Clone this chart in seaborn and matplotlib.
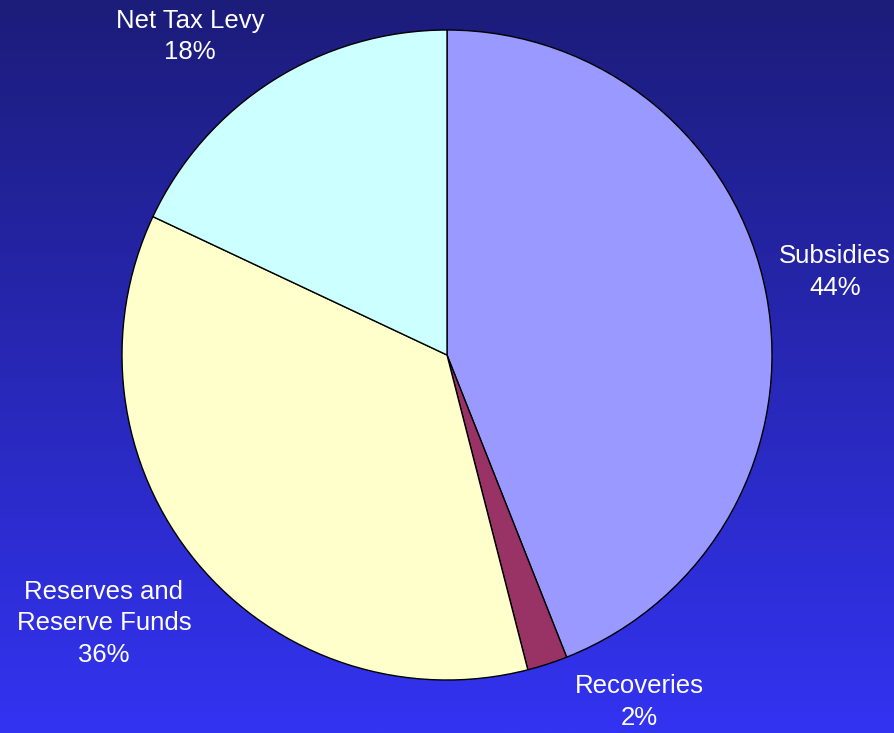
import numpy as np
import matplotlib
matplotlib.use("Agg")
import matplotlib.pyplot as plt
import seaborn as sns

# Revenue sources (percent of total)
categories = ["Subsidies", "Recoveries", "Reserves and\nReserve Funds", "Net Tax Levy"]
shares = [44, 2, 36, 18]
colors = ["#9999ff", "#993366", "#ffffcc", "#ccffff"]

sns.set_style("white")
plt.rcParams["font.family"] = ["Liberation Sans", "DejaVu Sans"]

W, H = 895, 733
fig = plt.figure(figsize=(W / 100, H / 100), dpi=100)

# vertical blue gradient background
bg = fig.add_axes([0, 0, 1, 1])
top = np.array([0x1c, 0x1c, 0x7a]) / 255
bottom = np.array([0x33, 0x33, 0xf2]) / 255
t = np.linspace(0, 1, 256)[:, None]
grad = top[None, :] * (1 - t) + bottom[None, :] * t
bg.imshow(grad[:, None, :], aspect="auto", extent=[0, 1, 0, 1])
bg.set_axis_off()

# pie axes: centre (447, 355) px, radius 325 px
cx, cy, r = 447, 355, 325
ax = fig.add_axes([(cx - r) / W, (H - cy - r) / H, 2 * r / W, 2 * r / H])
wedges, _ = ax.pie(
    shares,
    colors=colors,
    startangle=90,
    counterclock=False,
    radius=1.0,
    wedgeprops=dict(edgecolor="black", linewidth=1.0),
)
ax.set_xlim(-1, 1)
ax.set_ylim(-1, 1)
ax.set_aspect("equal")
ax.set_axis_off()

# label placement relative to each wedge's mid-angle
label_dist = [1.22, 1.22, 1.34, 1.26]
angle_shift = [1.3, 11.0, -1.6, 6.5]
for w, name, val, d, s in zip(wedges, categories, shares, label_dist, angle_shift):
    mid = np.deg2rad((w.theta1 + w.theta2) / 2 + s)
    ax.text(d * np.cos(mid), d * np.sin(mid), f"{name}\n{val}%",
            ha="center", va="center", color="white", fontsize=18.5,
            linespacing=1.4, clip_on=False)

fig.savefig("out.png", dpi=100)
